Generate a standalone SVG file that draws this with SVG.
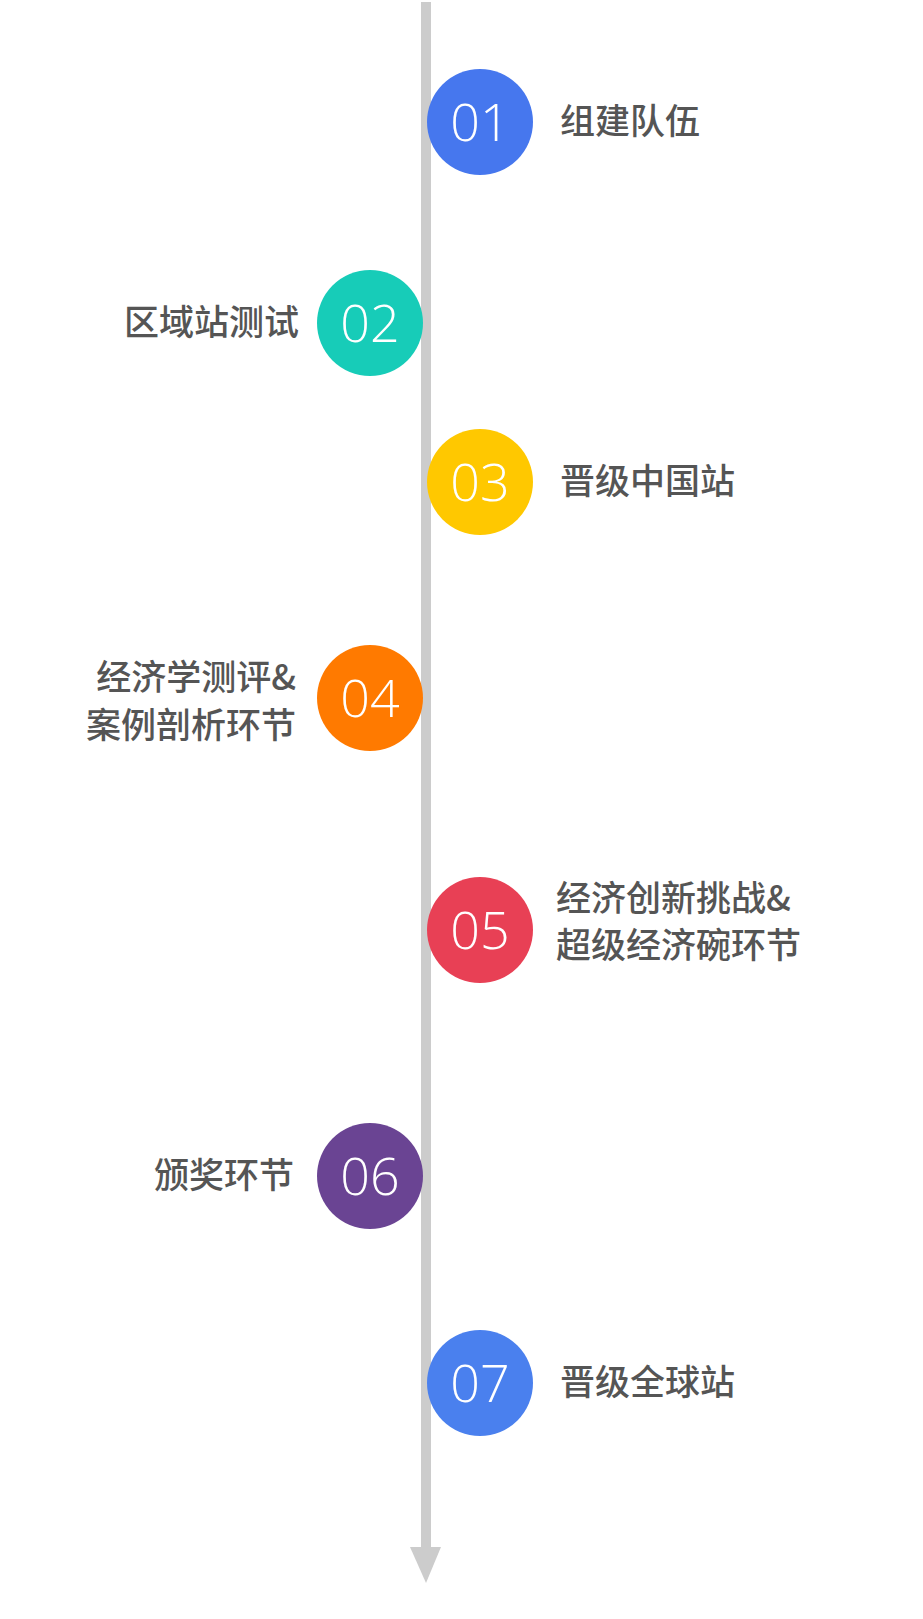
<svg xmlns="http://www.w3.org/2000/svg" width="923" height="1619" viewBox="0 0 923 1619">
<style>
.num{font-family:"Open Sans","Noto Sans",sans-serif;font-weight:300;font-size:52px;fill:#fff;text-anchor:middle}
.lbl{font-family:"Noto Sans CJK SC",sans-serif;font-weight:500;font-size:35px;fill:#555}
.r{text-anchor:end}
</style>
<rect width="923" height="1619" fill="#fff"/>
<g id="connectors">
<rect x="421" y="2" width="10" height="1548" fill="#ccc"/>
<polygon points="410,1547 441,1547 426,1583" fill="#ccc"/>
</g>
<g id="n01"><circle cx="480" cy="122" r="53" fill="#4677EE"/><text class="num" x="480" y="141">01</text><text class="lbl" x="560" y="134">组建队伍</text></g>
<g id="n02"><circle cx="370" cy="323" r="53" fill="#17CCB8"/><text class="num" x="370" y="342">02</text><text class="lbl r" x="299" y="335">区域站测试</text></g>
<g id="n03"><circle cx="480" cy="482" r="53" fill="#FFC800"/><text class="num" x="480" y="501">03</text><text class="lbl" x="560" y="494">晋级中国站</text></g>
<g id="n04"><circle cx="370" cy="698" r="53" fill="#FF7A00"/><text class="num" x="370" y="717">04</text><text class="lbl r" x="296" y="690">经济学测评&amp;</text><text class="lbl r" x="296" y="738">案例剖析环节</text></g>
<g id="n05"><circle cx="480" cy="930" r="53" fill="#E84055"/><text class="num" x="480" y="949">05</text><text class="lbl" x="556" y="911">经济创新挑战&amp;</text><text class="lbl" x="556" y="958">超级经济碗环节</text></g>
<g id="n06"><circle cx="370" cy="1176" r="53" fill="#6A4493"/><text class="num" x="370" y="1195">06</text><text class="lbl r" x="294" y="1188">颁奖环节</text></g>
<g id="n07"><circle cx="480" cy="1383" r="53" fill="#4A80EE"/><text class="num" x="480" y="1402">07</text><text class="lbl" x="560" y="1395">晋级全球站</text></g>
</svg>
